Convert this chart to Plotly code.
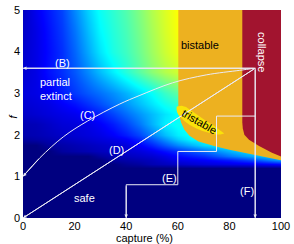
import plotly.graph_objects as go

# ---------------- data ----------------
capture_grid = [0, 5, 10, 15, 20, 25, 30, 35, 40, 45, 50, 55, 60, 65, 70, 80, 90, 100]
f_grid = [0, 1.0, 1.2, 1.3, 1.4, 1.5, 1.6, 1.75, 1.9, 2.0, 2.25, 2.5, 2.75, 3.0, 3.5, 4.0, 4.5, 5.0]

# jet-colormap level (0 = navy ... 0.625 = yellow), one row per f level
z_f0_00 = [0] * 18
z_f1_00 = [0] * 18
z_f1_20 = [0] * 18
z_f1_30 = [0, 0, 0, 0, 0, 0, 0, 0, 0.02, 0.03, 0.05, 0.06, 0.07, 0.08, 0.09, 0.10, 0.11, 0.13]
z_f1_40 = [0, 0, 0, 0, 0, 0, 0, 0.03, 0.04, 0.05, 0.06, 0.08, 0.10, 0.11, 0.12, 0.15, 0.20, 0.28]
z_f1_50 = [0, 0, 0, 0, 0, 0, 0.03, 0.05, 0.06, 0.07, 0.08, 0.10, 0.13, 0.15, 0.17, 0.24, 0.30, 0.35]
z_f1_60 = [0, 0, 0, 0.03, 0.04, 0.05, 0.06, 0.07, 0.08, 0.09, 0.11, 0.14, 0.17, 0.20, 0.23, 0.30, 0.36, 0.37]
z_f1_75 = [0, 0, 0.03, 0.04, 0.05, 0.06, 0.07, 0.08, 0.09, 0.12, 0.16, 0.21, 0.26, 0.30, 0.34, 0.37, 0.38, 0.38]
z_f1_90 = [0.03, 0.04, 0.05, 0.06, 0.07, 0.08, 0.09, 0.10, 0.12, 0.16, 0.21, 0.27, 0.33, 0.37, 0.375, 0.38, 0.38, 0.38]
z_f2_00 = [0.045, 0.05, 0.06, 0.07, 0.08, 0.09, 0.10, 0.12, 0.15, 0.19, 0.25, 0.31, 0.36, 0.38, 0.38, 0.38, 0.38, 0.38]
z_f2_25 = [0.05, 0.055, 0.07, 0.085, 0.09, 0.10, 0.12, 0.15, 0.19, 0.24, 0.30, 0.36, 0.385, 0.39, 0.39, 0.39, 0.39, 0.39]
z_f2_50 = [0.07, 0.08, 0.09, 0.10, 0.11, 0.13, 0.155, 0.19, 0.23, 0.27, 0.31, 0.35, 0.38, 0.40, 0.40, 0.40, 0.40, 0.40]
z_f2_75 = [0.08, 0.09, 0.10, 0.12, 0.14, 0.17, 0.20, 0.235, 0.27, 0.31, 0.35, 0.39, 0.42, 0.45, 0.45, 0.45, 0.45, 0.45]
z_f3_00 = [0.09, 0.10, 0.12, 0.15, 0.18, 0.21, 0.235, 0.265, 0.30, 0.34, 0.38, 0.43, 0.47, 0.50, 0.50, 0.50, 0.50, 0.50]
z_f3_50 = [0.08, 0.10, 0.14, 0.17, 0.21, 0.26, 0.31, 0.36, 0.41, 0.46, 0.51, 0.55, 0.58, 0.60, 0.60, 0.60, 0.60, 0.60]
z_f4_00 = [0.075, 0.10, 0.135, 0.17, 0.225, 0.29, 0.35, 0.40, 0.435, 0.48, 0.53, 0.575, 0.61, 0.625, 0.625, 0.625, 0.625, 0.625]
z_f4_50 = [0.07, 0.10, 0.14, 0.18, 0.24, 0.31, 0.37, 0.41, 0.445, 0.49, 0.54, 0.585, 0.62, 0.625, 0.625, 0.625, 0.625, 0.625]
z_f5_00 = [0.065, 0.11, 0.15, 0.19, 0.26, 0.33, 0.385, 0.42, 0.455, 0.50, 0.55, 0.59, 0.625, 0.625, 0.625, 0.625, 0.625, 0.625]

# regime boundaries
bistable_x = [60.2, 100, 100, 94, 87.6, 80, 74.8, 68, 64.5, 62.5, 61.3, 60.6, 60.2]
bistable_f = [5.0, 5.0, 1.39, 1.46, 1.54, 1.64, 1.72, 1.84, 1.98, 2.13, 2.29, 2.45, 2.7]
collapse_x = [85.0, 100, 100, 96.5, 91.5, 87.6, 85.8, 85.2, 85.0]
collapse_f = [5.0, 5.0, 1.48, 1.57, 1.73, 1.88, 2.0, 2.15, 2.3]
tristable_x = [59.6, 61.5, 63.2, 66, 68.3, 71, 73.5, 76, 78, 76.5, 74.8, 72, 69.6, 67, 64.5, 62.5, 61.3, 60.2, 59.7, 59.5]
tristable_f = [2.68, 2.70, 2.67, 2.55, 2.43, 2.33, 2.24, 2.12, 2.03, 2.01, 2.01, 2.05, 2.09, 2.16, 2.24, 2.33, 2.40, 2.48, 2.55, 2.62]

# trajectories (B)-(F)
path_B_x = [90, 0]
path_B_f = [3.6, 3.6]
path_C_x = [90, 84, 71, 58, 45, 37.5, 25, 15.6, 6.6, 0]
path_C_f = [3.6, 3.55, 3.44, 3.25, 2.94, 2.74, 2.33, 1.95, 1.45, 1.0]
path_D_x = [90, 0]
path_D_f = [3.6, 0]
path_E_x = [90, 75, 75, 60, 60, 40, 40]
path_E_f = [2.45, 2.45, 1.6, 1.6, 0.8, 0.8, 0]
path_F_x = [90, 90]
path_F_f = [3.6, 0]

path_labels = ["(B)", "(C)", "(D)", "(E)", "(F)"]
path_label_x = [15.4, 25.1, 36.4, 56.8, 87.0]
path_label_f = [3.72, 2.47, 1.64, 0.95, 0.65]

x_ticks = [0, 20, 40, 60, 80, 100]
y_ticks = [0, 1, 2, 3, 4, 5]

# ---------------- figure ----------------
FONT = "Arial, Liberation Sans, sans-serif"
jet = [[0.0, "rgb(0,0,128)"], [0.125, "rgb(0,0,255)"], [0.375, "rgb(0,255,255)"],
       [0.625, "rgb(255,255,0)"], [0.875, "rgb(255,0,0)"], [1.0, "rgb(128,0,0)"]]

z = [z_f0_00, z_f1_00, z_f1_20, z_f1_30, z_f1_40, z_f1_50, z_f1_60, z_f1_75, z_f1_90,
     z_f2_00, z_f2_25, z_f2_50, z_f2_75, z_f3_00, z_f3_50, z_f4_00, z_f4_50, z_f5_00]

fig = go.Figure()
fig.add_trace(go.Heatmap(x=capture_grid, y=f_grid, z=z, colorscale=jet, zmin=0, zmax=1,
                         zsmooth="best", showscale=False, hoverinfo="skip"))

for xs, fs, col in [(bistable_x, bistable_f, "rgb(237,177,32)"),
                    (collapse_x, collapse_f, "rgb(162,20,47)"),
                    (tristable_x, tristable_f, "rgb(250,226,10)")]:
    fig.add_trace(go.Scatter(x=xs, y=fs, mode="lines", fill="toself", fillcolor=col,
                             line=dict(width=0, color=col), hoverinfo="skip", showlegend=False))

paths = [(path_B_x, path_B_f, "linear"), (path_C_x, path_C_f, "spline"),
         (path_D_x, path_D_f, "linear"), (path_E_x, path_E_f, "linear"),
         (path_F_x, path_F_f, "linear")]
for xs, fs, shp in paths:
    fig.add_trace(go.Scatter(x=xs, y=fs, mode="lines",
                             line=dict(color="rgb(235,235,245)", width=1, shape=shp),
                             hoverinfo="skip", showlegend=False))
    fig.add_annotation(x=xs[-1], y=fs[-1], ax=xs[-2], ay=fs[-2], axref="x", ayref="y",
                       xref="x", yref="y", text="", showarrow=True, arrowhead=2,
                       arrowsize=0.7, arrowwidth=1, arrowcolor="rgb(235,235,245)", standoff=0)

for t, xv, fv in zip(path_labels, path_label_x, path_label_f):
    fig.add_annotation(x=xv, y=fv, text=t, showarrow=False, font=dict(color="white", size=11, family=FONT))

fig.add_annotation(x=5.8, y=3.09, text="partial<br>extinct", xanchor="left", align="left",
                   showarrow=False, font=dict(color="white", size=11, family=FONT))
fig.add_annotation(x=24, y=0.47, text="safe", showarrow=False,
                   font=dict(color="white", size=11, family=FONT))
fig.add_annotation(x=68.7, y=4.16, text="bistable", showarrow=False,
                   font=dict(color="black", size=11, family=FONT))
fig.add_annotation(x=92.4, y=3.98, text="collapse", textangle=90, showarrow=False,
                   font=dict(color="white", size=11, family=FONT))
fig.add_annotation(x=68.6, y=2.31, text="tristable", textangle=30, showarrow=False,
                   font=dict(color="black", size=11, family=FONT))

fig.add_annotation(x=47, y=-0.095, xref="x", yref="paper", text="capture (%)", showarrow=False,
                   yanchor="middle", font=dict(color="black", size=11, family=FONT))
fig.add_annotation(x=-0.068, y=2.45, xref="paper", yref="y", text="<i>f</i>", textangle=-90,
                   showarrow=False, font=dict(color="black", size=11, family=FONT))

fig.update_layout(
    width=294, height=244,
    margin=dict(l=23, r=12, t=4, b=26),
    paper_bgcolor="white", plot_bgcolor="white",
    showlegend=False,
    font=dict(family=FONT, size=11, color="black"),
    xaxis=dict(range=[0, 100], tickvals=x_ticks, showgrid=False, zeroline=False,
               showline=False, ticks="", tickfont=dict(size=11), ticklabeloverflow="allow"),
    yaxis=dict(range=[0, 5], tickvals=y_ticks, showgrid=False, zeroline=False,
               showline=False, ticks="", tickfont=dict(size=11), ticklabelstandoff=2,
               ticklabeloverflow="allow"),
)

fig.write_html("out.html", config={"displayModeBar": False},
               post_script="document.body.style.margin='0px';")
